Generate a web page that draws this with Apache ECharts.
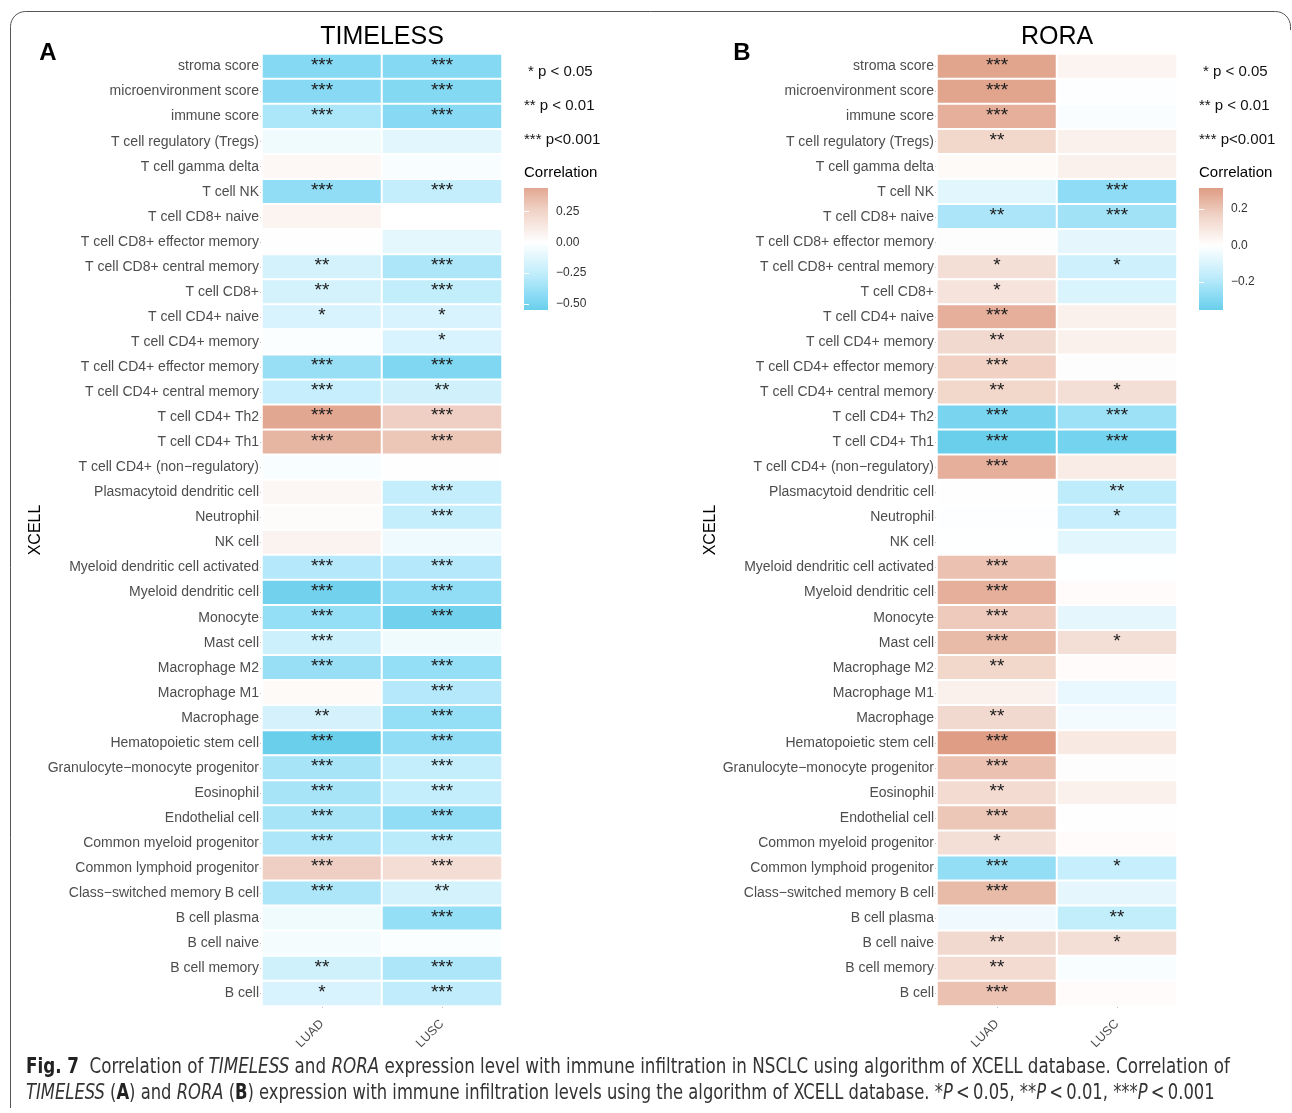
<!DOCTYPE html>
<html><head><meta charset="utf-8">
<script src="https://cdn.jsdelivr.net/npm/echarts@6/dist/echarts.min.js"></script>
<style>html,body{margin:0;padding:0;background:#fff}#c{width:1292px;height:1113px}</style>
</head><body><div id="c"></div>
<script>
// ---------- DATA ----------
const cellTypes = ["stroma score","microenvironment score","immune score","T cell regulatory (Tregs)","T cell gamma delta","T cell NK","T cell CD8+ naive","T cell CD8+ effector memory","T cell CD8+ central memory","T cell CD8+","T cell CD4+ naive","T cell CD4+ memory","T cell CD4+ effector memory","T cell CD4+ central memory","T cell CD4+ Th2","T cell CD4+ Th1","T cell CD4+ (non\u2212regulatory)","Plasmacytoid dendritic cell","Neutrophil","NK cell","Myeloid dendritic cell activated","Myeloid dendritic cell","Monocyte","Mast cell","Macrophage M2","Macrophage M1","Macrophage","Hematopoietic stem cell","Granulocyte\u2212monocyte progenitor","Eosinophil","Endothelial cell","Common myeloid progenitor","Common lymphoid progenitor","Class\u2212switched memory B cell","B cell plasma","B cell naive","B cell memory","B cell"];
const cohorts = ["LUAD","LUSC"];

const timelessLUAD = [-0.45,-0.44,-0.33,-0.06,0.04,-0.41,0.06,0.005,-0.18,-0.18,-0.16,-0.02,-0.39,-0.23,0.44,0.38,-0.03,0.05,0.02,0.07,-0.30,-0.52,-0.40,-0.21,-0.39,0.03,-0.17,-0.55,-0.34,-0.34,-0.34,-0.32,0.27,-0.32,-0.06,-0.04,-0.20,-0.16];
const timelessLUSC = [-0.45,-0.46,-0.44,-0.12,-0.03,-0.24,0.0,-0.11,-0.32,-0.25,-0.16,-0.16,-0.47,-0.19,0.27,0.31,0.005,-0.24,-0.24,-0.07,-0.30,-0.41,-0.52,-0.06,-0.40,-0.30,-0.40,-0.41,-0.24,-0.24,-0.41,-0.28,0.19,-0.18,-0.40,-0.02,-0.32,-0.26];
const timelessSigLUAD = ["***","***","***","","","***","","","**","**","*","","***","***","***","***","","","","","***","***","***","***","***","","**","***","***","***","***","***","***","***","","","**","*"];
const timelessSigLUSC = ["***","***","***","","","***","","","***","***","*","*","***","**","***","***","","***","***","","***","***","***","","***","***","***","***","***","***","***","***","***","**","***","","***","***"];

const roraLUAD = [0.29,0.29,0.26,0.15,0.02,-0.08,-0.21,0.005,0.12,0.10,0.26,0.14,0.17,0.15,-0.32,-0.353,0.26,0.0,-0.005,-0.003,0.21,0.26,0.19,0.23,0.15,0.05,0.14,0.315,0.21,0.13,0.20,0.12,-0.26,0.23,-0.04,0.14,0.13,0.21];
const roraLUSC = [0.04,-0.005,-0.015,0.05,0.05,-0.27,-0.23,-0.07,-0.13,-0.10,0.05,0.05,0.005,0.12,-0.24,-0.33,0.07,-0.17,-0.15,-0.08,-0.003,0.015,-0.07,0.12,0.015,-0.06,-0.03,0.08,0.005,0.055,0.0,0.015,-0.15,-0.07,-0.16,0.12,-0.02,0.015];
const roraSigLUAD = ["***","***","***","**","","","**","","*","*","***","**","***","**","***","***","***","","","","***","***","***","***","**","","**","***","***","**","***","*","***","***","","**","**","***"];
const roraSigLUSC = ["","","","","","***","***","","*","","","","","*","***","***","","**","*","","","","","*","","","","","","","","","*","","**","*","",""];

const ticksA = [-0.5,-0.25,0,0.25];
const ticksB = [-0.2,0,0.2];
const legendLines = ["* p < 0.05","** p < 0.01","*** p<0.001"];

// ---------- STYLE ----------
const FONT = "'Liberation Sans', Arial, Helvetica, sans-serif";
// colour ramps: [fraction of |v|/L, rgb]
const NEG = [[0,[255,255,255]],[0.5,[188,235,251]],[0.8,[136,218,244]],[1,[106,207,234]]];
const POS = [[0,[255,255,255]],[0.5,[239,207,194]],[0.8,[226,167,145]],[1,[219,146,119]]];
function ramp(stops,t){
  for(let k=1;k<stops.length;k++){
    if(t<=stops[k][0]){
      const a=stops[k-1], b=stops[k], f=(t-a[0])/(b[0]-a[0]);
      return a[1].map((c,i)=>Math.round(c+(b[1][i]-c)*f));
    }
  }
  return stops[stops.length-1][1];
}
function corrColor(v,L){
  const t=Math.min(1,Math.abs(v)/L);
  return 'rgb('+ramp(v<0?NEG:POS,t).join(',')+')';
}
function fmtMinus(v,d){ const s=Math.abs(v).toFixed(d); return (v<0?'\u2212':'')+s; }

const chart = echarts.init(document.getElementById('c'), null, {renderer:'canvas'});
const grids=[], xAxes=[], yAxes=[], series=[], visualMaps=[], graphics=[];

function panel(i, off, title, letter, luad, lusc, sigL, sigS, ticks, dec){
  const all = luad.concat(lusc);
  const mn = Math.min(...all), mx = Math.max(...all);
  const L = Math.max(Math.abs(mn), Math.abs(mx));
  const gi = grids.length, xi = xAxes.length, yi = yAxes.length;
  grids.push({left:262+off, top:54, width:240, height:952});
  xAxes.push({type:'category', gridIndex:gi, data:cohorts, position:'bottom',
    axisLine:{show:false}, axisTick:{show:true, alignWithLabel:true, length:2, lineStyle:{color:'#aaa'}},
    axisLabel:{rotate:45, color:'#4d4d4d', fontSize:12.5, margin:16, fontFamily:FONT}, splitLine:{show:false}});
  yAxes.push({type:'category', gridIndex:gi, data:cellTypes, inverse:true,
    axisLine:{show:false}, axisTick:{show:true, alignWithLabel:true, length:2, lineStyle:{color:'#aaa'}},
    axisLabel:{color:'#4d4d4d', fontSize:14, margin:3, fontFamily:FONT},
    name:'XCELL', nameLocation:'middle', nameRotate:90, nameGap:212,
    nameTextStyle:{fontSize:16, color:'#000', fontFamily:FONT}});
  const data=[], sig=[sigL,sigS];
  luad.forEach((v,r)=>data.push([0,r,v]));
  lusc.forEach((v,r)=>data.push([1,r,v]));
  const si = series.length;
  series.push({type:'heatmap', xAxisIndex:xi, yAxisIndex:yi, data:data,
    itemStyle:{borderColor:'#fff', borderWidth:2},
    label:{show:true, fontSize:19, color:'#1a1a1a', fontFamily:FONT, offset:[0,-1],
      formatter:p=>sig[p.data[0]][p.data[1]]},
    emphasis:{disabled:true}});
  const cols=[]; const N=160;
  for(let k=0;k<=N;k++){ cols.push(corrColor(mn+(mx-mn)*k/N, L)); }
  visualMaps.push({show:false, seriesIndex:si, dimension:2, min:mn, max:mx, inRange:{color:cols}});

  // colour bar
  const stops=[];
  for(let k=0;k<=60;k++){ stops.push({offset:k/60, color:corrColor(mx-(mx-mn)*k/60, L)}); }
  graphics.push({type:'rect', x:524+off, y:188, shape:{x:0,y:0,width:24,height:122},
    style:{fill:new echarts.graphic.LinearGradient(0,0,0,1,stops)}, z:1});
  const cg = grids.length;
  grids.push({left:524+off, top:188, width:24, height:122});
  xAxes.push({type:'value', gridIndex:cg, show:false, min:0, max:1});
  yAxes.push({type:'value', gridIndex:cg, position:'right', min:mn, max:mx, z:10,
    axisLine:{show:false}, splitLine:{show:false},
    axisTick:{show:true, inside:true, length:5, lineStyle:{color:'#fff', width:1}, customValues:ticks},
    axisLabel:{show:true, customValues:ticks, formatter:v=>fmtMinus(v,dec), color:'#333', fontSize:12, margin:8, fontFamily:FONT}});
  yAxes.push({type:'value', gridIndex:cg, position:'left', min:mn, max:mx, z:10,
    axisLine:{show:false}, splitLine:{show:false},
    axisTick:{show:true, inside:true, length:5, lineStyle:{color:'#fff', width:1}, customValues:ticks},
    axisLabel:{show:false}});

  // titles and legend text
  graphics.push({type:'text', x:382+off, y:37, style:{text:title, fontSize:25, fontFamily:FONT, fill:'#000', align:'center', verticalAlign:'middle'}});
  graphics.push({type:'text', x:(i===0?48:742), y:53, style:{text:letter, fontSize:24, fontWeight:'bold', fontFamily:FONT, fill:'#000', align:'center', verticalAlign:'middle'}});
  const lx=[528,524,524], ly=[72,106,140];
  legendLines.forEach((t,k)=>graphics.push({type:'text', x:lx[k]+off, y:ly[k], style:{text:t, fontSize:15, fontFamily:FONT, fill:'#111', align:'left', verticalAlign:'middle'}}));
  graphics.push({type:'text', x:524+off, y:173, style:{text:'Correlation', fontSize:15, fontFamily:FONT, fill:'#000', align:'left', verticalAlign:'middle'}});
}

panel(0, 0, 'TIMELESS', 'A', timelessLUAD, timelessLUSC, timelessSigLUAD, timelessSigLUSC, ticksA, 2);
panel(1, 675, 'RORA', 'B', roraLUAD, roraLUSC, roraSigLUAD, roraSigLUSC, ticksB, 1);

// frame (rounded corners approximated)
const framePts = [[10.5,1108]];
const R = 15;
for(let k=0;k<=8;k++){ const a=Math.PI + k*Math.PI/16; framePts.push([10.5+R+R*Math.cos(a), 11.5+R+R*Math.sin(a)]); }
for(let k=0;k<=8;k++){ const a=1.5*Math.PI + k*Math.PI/16; framePts.push([1290.5-R+R*Math.cos(a), 11.5+R+R*Math.sin(a)]); }
framePts.push([1290.5, 30]);
graphics.push({type:'polyline', shape:{points:framePts}, style:{fill:null, stroke:'#555', lineWidth:1}});

// caption
const CAP = "'DejaVu Sans Condensed','Liberation Sans Narrow','Liberation Sans',sans-serif";
const capRich = {
  n:{fontSize:21, fontFamily:CAP, fill:'#333'},
  b:{fontSize:21, fontFamily:CAP, fill:'#222', fontWeight:'bold'},
  i:{fontSize:21, fontFamily:CAP, fill:'#333', fontStyle:'italic'}
};
graphics.push({type:'text', x:26, y:1068, scaleX:0.886, style:{
  text:'{b|Fig. 7}{n|  Correlation of }{i|TIMELESS}{n| and }{i|RORA}{n| expression level with immune infiltration in NSCLC using algorithm of XCELL database. Correlation of}',
  rich:capRich, fontSize:21, fontFamily:CAP, fill:'#333', align:'left', verticalAlign:'middle'}});
graphics.push({type:'text', x:26, y:1094, scaleX:0.866, style:{
  text:'{i|TIMELESS}{n| (}{b|A}{n|) and }{i|RORA}{n| (}{b|B}{n|) expression with immune infiltration levels using the algorithm of XCELL database. *}{i|P}{n|\u2009<\u20090.05, **}{i|P}{n|\u2009<\u20090.01, ***}{i|P}{n|\u2009<\u20090.001}',
  rich:capRich, fontSize:21, fontFamily:CAP, fill:'#333', align:'left', verticalAlign:'middle'}});

chart.setOption({
  animation:false,
  backgroundColor:'#fff',
  grid:grids, xAxis:xAxes, yAxis:yAxes, series:series, visualMap:visualMaps,
  graphic:graphics
});
</script></body></html>
